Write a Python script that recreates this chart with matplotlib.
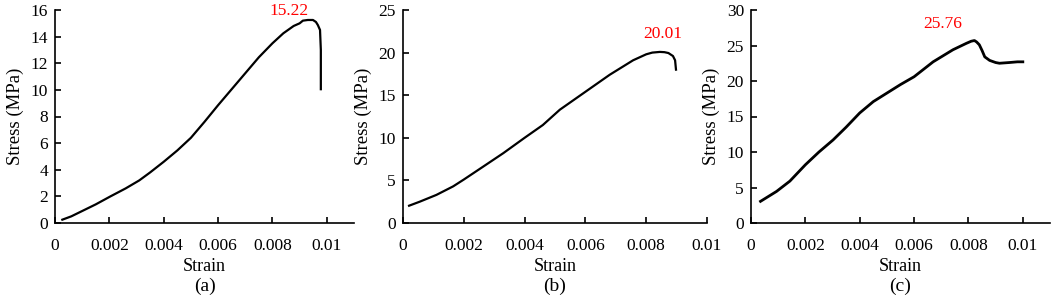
import matplotlib
matplotlib.use("Agg")
import matplotlib.pyplot as plt

plt.rcParams['font.family'] = ['Liberation Serif', 'DejaVu Serif']

# Panel (a)
strain_a = [0.00027, 0.0006, 0.001, 0.0015, 0.00204, 0.0026, 0.0031, 0.0035, 0.004, 0.0045,
            0.005, 0.0055, 0.006, 0.0065, 0.007, 0.0075, 0.008, 0.0084, 0.00878, 0.0090,
            0.00912, 0.0093, 0.00949, 0.0096, 0.00967, 0.00975, 0.00978, 0.00978]
stress_a = [0.25, 0.5, 0.9, 1.4, 2.0, 2.6, 3.2, 3.8, 4.6, 5.45,
            6.4, 7.6, 8.85, 10.05, 11.25, 12.45, 13.5, 14.25, 14.8, 15.0,
            15.2, 15.25, 15.25, 15.1, 14.87, 14.5, 13.0, 10.05]

# Panel (b)
strain_b = [0.0002, 0.00055, 0.0011, 0.00165, 0.002, 0.00263, 0.0033, 0.004, 0.0046, 0.00516,
            0.006, 0.0068, 0.00757, 0.008, 0.0082, 0.00845, 0.0086, 0.00873, 0.00888, 0.00895, 0.00898]
stress_b = [2.03, 2.5, 3.3, 4.3, 5.1, 6.6, 8.2, 10.0, 11.5, 13.3,
            15.4, 17.4, 19.1, 19.8, 20.0, 20.08, 20.05, 19.95, 19.6, 19.1, 18.0]

# Panel (c)
strain_c = [0.00035, 0.00094, 0.00143, 0.002, 0.0025, 0.00302, 0.0035, 0.004, 0.0045, 0.005,
            0.0055, 0.006, 0.0067, 0.00743, 0.00792, 0.0081, 0.00822, 0.0083, 0.0084, 0.0085,
            0.0086, 0.00878, 0.0090, 0.00914, 0.0095, 0.0098, 0.01]
stress_c = [3.05, 4.45, 5.9, 8.2, 10.0, 11.7, 13.5, 15.5, 17.1, 18.3,
            19.5, 20.6, 22.7, 24.4, 25.3, 25.6, 25.7, 25.5, 25.1, 24.3,
            23.4, 22.9, 22.6, 22.5, 22.6, 22.7, 22.7]

peaks = ["15.22", "20.01", "25.76"]
peak_pos = [(0.0086, 15.95), (0.00856, 22.2), (0.00704, 28.0)]
panel_labels = ["(a)", "(b)", "(c)"]
ylims = [16, 25, 30]
yticks = [list(range(0, 17, 2)), list(range(0, 26, 5)), list(range(0, 31, 5))]
xlims = [0.011, 0.01, 0.011]
xticks = [0, 0.002, 0.004, 0.006, 0.008, 0.01]
xticklabels = ["0", "0.002", "0.004", "0.006", "0.008", "0.01"]

W, H = 1052, 300
fig = plt.figure(figsize=(W / 100, H / 100), dpi=100)
lefts = [55, 403, 751]
rights = [354, 707, 1050]
top, bottom = 10, 223

data = [(strain_a, stress_a), (strain_b, stress_b), (strain_c, stress_c)]
for i in range(3):
    ax = fig.add_axes([lefts[i] / W, 1 - bottom / H, (rights[i] - lefts[i]) / W, (bottom - top) / H])
    x, y = data[i]
    ax.plot(x, y, color='black', lw=1.6 if i < 2 else 2.0)
    ax.set_xlim(0, xlims[i])
    ax.set_ylim(0, ylims[i])
    ax.set_xticks(xticks)
    ax.set_xticklabels(xticklabels)
    ax.set_yticks(yticks[i])
    for s in ['top', 'right']:
        ax.spines[s].set_visible(False)
    for s in ['left', 'bottom']:
        ax.spines[s].set_linewidth(1.2)
    ax.tick_params(direction='in', length=4, width=1.2, labelsize=12.5, pad=5)
    ax.tick_params(axis='x', pad=11)
    ax.set_xlabel("Strain", fontsize=13, labelpad=3)
    ax.set_ylabel("Stress (MPa)", fontsize=13.5, labelpad=5)
    ax.text(peak_pos[i][0], peak_pos[i][1], peaks[i], color='red', fontsize=12.5,
            ha='center', va='center', clip_on=False)
    ax.text(0.5, -0.255, panel_labels[i], transform=ax.transAxes, fontsize=14,
            ha='center', va='top')

fig.savefig("out.png", dpi=100)
